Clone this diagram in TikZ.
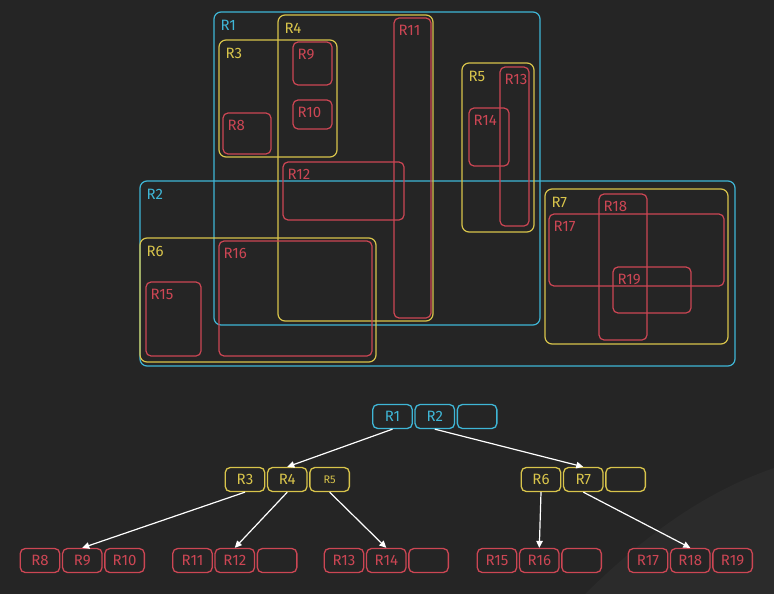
\documentclass[tikz,border=0pt]{standalone}
\usepackage{fontspec}
\setmainfont{Fira Sans}
\usetikzlibrary{arrows.meta,positioning,fit}
\definecolor{bgdark}{HTML}{252525}
\definecolor{bglight}{HTML}{2B2B2B}
\definecolor{rcyan}{HTML}{3FB6D6}
\definecolor{ryellow}{HTML}{D8C44B}
\definecolor{rred}{HTML}{CC4654}

\begin{document}
\begin{tikzpicture}[
  x=1pt, y=-1pt,
  reg/.style={rounded corners=7pt, line width=1.2pt, inner sep=0pt},
  creg/.style={reg, draw=rcyan},
  yreg/.style={reg, draw=ryellow},
  rreg/.style={reg, draw=rred, rounded corners=5pt},
  lbl/.style={anchor=base west, inner sep=0pt, font=\fontsize{15}{15}\selectfont},
  clbl/.style={lbl, text=rcyan, xshift=7pt, yshift=-19pt},
  ylbl/.style={lbl, text=ryellow, xshift=7pt, yshift=-19pt},
  rlbl/.style={lbl, text=rred, xshift=5pt, yshift=-18pt},
  tbox/.style={draw, rounded corners=5pt, line width=1.3pt, minimum width=39.5pt, minimum height=24pt, inner sep=0pt, fill=bgdark, font=\fontsize{15}{15}\selectfont},
  ctree/.style={tbox, draw=rcyan, text=rcyan},
  ytree/.style={tbox, draw=ryellow, text=ryellow},
  rtree/.style={tbox, draw=rred, text=rred},
  arr/.style={-{Triangle[length=7pt,width=6.5pt]}, line width=1.2pt, white}
]
\useasboundingbox (0,0) rectangle (774,594);
\fill[bgdark] (0,0) rectangle (774,594);
\fill[bglight] (585,594) .. controls (650,530) and (710,490) .. (774,468) -- (774,594) -- cycle;
% --- level 1 regions ---
\node[creg, fit={(214,12)(540,325)}]  (r1) {};
\node[creg, fit={(140,181)(735,366)}] (r2) {};
% --- level 2 regions ---
\node[yreg, fit={(219,40)(337,157)}]  (r3) {};
\node[yreg, fit={(278,15)(433,321)}]  (r4) {};
\node[yreg, fit={(462,63)(534,232)}]  (r5) {};
\node[yreg, fit={(140,238)(376,362)}] (r6) {};
\node[yreg, fit={(545,189)(728,344)}] (r7) {};
% --- leaf regions ---
\node[rreg, fit={(223,113)(271,154)}] (r8) {};
\node[rreg, fit={(293,42)(332,85)}]   (r9) {};
\node[rreg, fit={(293,100)(332,129)}] (r10) {};
\node[rreg, fit={(394,18)(431,318)}]  (r11) {};
\node[rreg, fit={(283,162)(404,220)}] (r12) {};
\node[rreg, fit={(500,67)(529,226)}]  (r13) {};
\node[rreg, fit={(469,108)(509,166)}] (r14) {};
\node[rreg, fit={(146,282)(201,356)}] (r15) {};
\node[rreg, fit={(219,241)(372,356)}] (r16) {};
\node[rreg, fit={(549,214)(724,286)}] (r17) {};
\node[rreg, fit={(599,194)(647,340)}] (r18) {};
\node[rreg, fit={(613,267)(691,313)}] (r19) {};
% --- region labels ---
\node[clbl] at (r1.north west) {R1};
\node[clbl] at (r2.north west) {R2};
\node[ylbl] at (r3.north west) {R3};
\node[ylbl] at (r4.north west) {R4};
\node[ylbl] at (r5.north west) {R5};
\node[ylbl] at (r6.north west) {R6};
\node[ylbl] at (r7.north west) {R7};
\node[rlbl] at (r8.north west) {R8};
\node[rlbl] at (r9.north west) {R9};
\node[rlbl] at (r10.north west) {R10};
\node[rlbl] at (r11.north west) {R11};
\node[rlbl] at (r12.north west) {R12};
\node[rlbl] at (r13.north west) {R13};
\node[rlbl] at (r14.north west) {R14};
\node[rlbl] at (r15.north west) {R15};
\node[rlbl] at (r16.north west) {R16};
\node[rlbl] at (r17.north west) {R17};
\node[rlbl] at (r18.north west) {R18};
\node[rlbl] at (r19.north west) {R19};
% --- tree: root ---
\node[ctree] (n1) at (392.5,416.5) {R1};
\node[ctree, right=1.5pt of n1] (n2) {R2};
\node[ctree, right=1.5pt of n2] (ne0) {};
% --- tree: inner nodes ---
\node[ytree] (n3) at (245,479.5) {R3};
\node[ytree, right=1.5pt of n3] (n4) {R4};
\node[ytree, right=1.5pt of n4, font=\fontsize{11}{11}\selectfont] (n5) {R5};
\node[ytree] (n6) at (541,479.5) {R6};
\node[ytree, right=1.5pt of n6] (n7) {R7};
\node[ytree, right=1.5pt of n7] (ne7) {};
% --- tree: leaves ---
\node[rtree] (n8) at (40,560.5) {R8};
\node[rtree, right=1.5pt of n8] (n9) {R9};
\node[rtree, right=1.5pt of n9] (n10) {R10};
\node[rtree] (n11) at (192.5,560.5) {R11};
\node[rtree, right=1.5pt of n11] (n12) {R12};
\node[rtree, right=1.5pt of n12] (ne12) {};
\node[rtree] (n13) at (344,560.5) {R13};
\node[rtree, right=1.5pt of n13] (n14) {R14};
\node[rtree, right=1.5pt of n14] (ne14) {};
\node[rtree] (n15) at (497,560.5) {R15};
\node[rtree, right=1.5pt of n15] (n16) {R16};
\node[rtree, right=1.5pt of n16] (ne16) {};
\node[rtree] (n17) at (648,560.5) {R17};
\node[rtree, right=1.5pt of n17] (n18) {R18};
\node[rtree, right=1.5pt of n18] (n19) {R19};
% --- child pointers ---
\draw[arr] (n1.south) -- (n4.north);
\draw[arr] (n2.south) -- (n7.north);
\draw[arr] (n3.south) -- (n9.north);
\draw[arr] (n4.south) -- (n12.north);
\draw[arr] (n5.south) -- (n14.north);
\draw[arr] (n6.south) -- (n16.north);
\draw[arr] (n7.south) -- (n18.north);
\end{tikzpicture}
\end{document}
